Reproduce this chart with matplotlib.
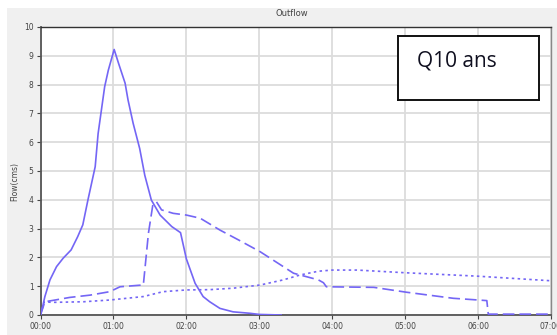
import matplotlib
matplotlib.use("Agg")
import matplotlib.pyplot as plt

# ---- data (time in hours, flow in cms) ----
solid_t = [0.0, 0.03, 0.06, 0.13, 0.22, 0.31, 0.42, 0.51, 0.58, 0.65, 0.75, 0.79,
           0.88, 0.93, 1.01, 1.07, 1.16, 1.2, 1.27, 1.36, 1.43, 1.52, 1.64, 1.8, 1.92,
           2.0, 2.12, 2.23, 2.32, 2.46, 2.64, 2.87, 3.0, 3.3]
solid_q = [0.0, 0.3, 0.64, 1.22, 1.68, 1.97, 2.26, 2.72, 3.13, 3.99, 5.15, 6.3,
           7.93, 8.5, 9.22, 8.74, 8.05, 7.47, 6.66, 5.78, 4.85, 3.99, 3.47, 3.07, 2.86,
           1.95, 1.1, 0.64, 0.46, 0.23, 0.11, 0.06, 0.02, 0.0]

dash_t = [0.0, 0.06, 0.2, 0.4, 0.68, 0.95, 1.09, 1.39, 1.41, 1.48, 1.54, 1.59, 1.66,
          1.82, 2.0, 2.19, 2.46, 2.72, 3.01, 3.47, 3.81, 3.88, 3.92, 4.57, 5.02, 5.66,
          6.12, 6.14, 7.0]
dash_q = [0.0, 0.46, 0.52, 0.61, 0.69, 0.81, 0.98, 1.04, 1.04, 2.84, 3.82, 3.93, 3.65,
          3.53, 3.47, 3.36, 2.95, 2.6, 2.2, 1.45, 1.22, 1.12, 0.98, 0.96, 0.79, 0.58,
          0.50, 0.03, 0.03]

dot_t = [0.0, 0.05, 0.2, 0.59, 0.95, 1.41, 1.68, 2.0, 2.32, 2.64, 3.01, 3.33, 3.56,
         3.81, 4.0, 4.34, 4.98, 5.98, 6.99]
dot_q = [0.0, 0.45, 0.44, 0.46, 0.52, 0.64, 0.81, 0.87, 0.88, 0.93, 1.04, 1.22, 1.39,
         1.52, 1.56, 1.56, 1.47, 1.35, 1.19]

x_ticks = [0, 1, 2, 3, 4, 5, 6, 7]
x_labels = ["00:00", "01:00", "02:00", "03:00", "04:00", "05:00", "06:00", "07:00"]
y_ticks = list(range(0, 11))

title = "Outflow"
ylabel = "Flow(cms)"
box_text = "Q10 ans"

W, H = 557, 335
fig = plt.figure(figsize=(W / 100, H / 100), dpi=100, facecolor="white")

# grey panel background (an axes behind everything)
bg = fig.add_axes([7 / W, 0, 1 - 7 / W, 1 - 8 / H], zorder=0)
bg.set_facecolor("#f0f0f0")
bg.set_xticks([])
bg.set_yticks([])
for s in bg.spines.values():
    s.set_visible(False)

L, R, T, B = 40.5, 551, 27, 315
ax = fig.add_axes([L / W, (H - B) / H, (R - L) / W, (B - T) / H], zorder=2)
ax.set_facecolor("white")

col = "#7466f5"
ax.plot(solid_t, solid_q, color=col, lw=1.2, solid_joinstyle="round", zorder=3)
ax.plot(dash_t, dash_q, color=col, lw=1.2, dashes=(7, 3), zorder=3)
ax.plot(dot_t, dot_q, color=col, lw=1.2, dashes=(1.5, 2), zorder=3)

ax.set_xlim(0, 7)
ax.set_ylim(0, 10)
ax.set_xticks(x_ticks)
ax.set_xticklabels(x_labels)
ax.set_yticks(y_ticks)
ax.grid(True, color="#dcdcdc", lw=1.3)
ax.set_axisbelow(True)
ax.tick_params(axis="both", labelsize=5.5, colors="#444444", length=3, width=0.8, pad=2)
for side in ["left", "bottom"]:
    ax.spines[side].set_color("#555555")
    ax.spines[side].set_linewidth(1.3)
ax.spines["top"].set_color("#333333")
ax.spines["top"].set_linewidth(1.0)
ax.spines["right"].set_color("#888888")
ax.spines["right"].set_linewidth(1.0)

fig.text(292 / W, 1 - 13 / H, title, ha="center", va="center", fontsize=6, color="#444444",
         zorder=3)
fig.text(15 / W, 1 - 182 / H, ylabel, ha="center", va="center", rotation=90,
         fontsize=5.5, color="#444444", zorder=3)

# annotation box
bx0, bx1, by0, by1 = 397.7, 539.3, 35.7, 100
box_ax = fig.add_axes([bx0 / W, 1 - by1 / H, (bx1 - bx0) / W, (by1 - by0) / H], zorder=5)
box_ax.set_facecolor("white")
box_ax.set_xticks([])
box_ax.set_yticks([])
for s in box_ax.spines.values():
    s.set_color("#111111")
    s.set_linewidth(1.4)
fig.text(417 / W, 1 - 61 / H, box_text, ha="left", va="center", fontsize=15,
         family="Open Sans", color="#101020", zorder=6)

fig.savefig("out.png", dpi=100, facecolor="white")
